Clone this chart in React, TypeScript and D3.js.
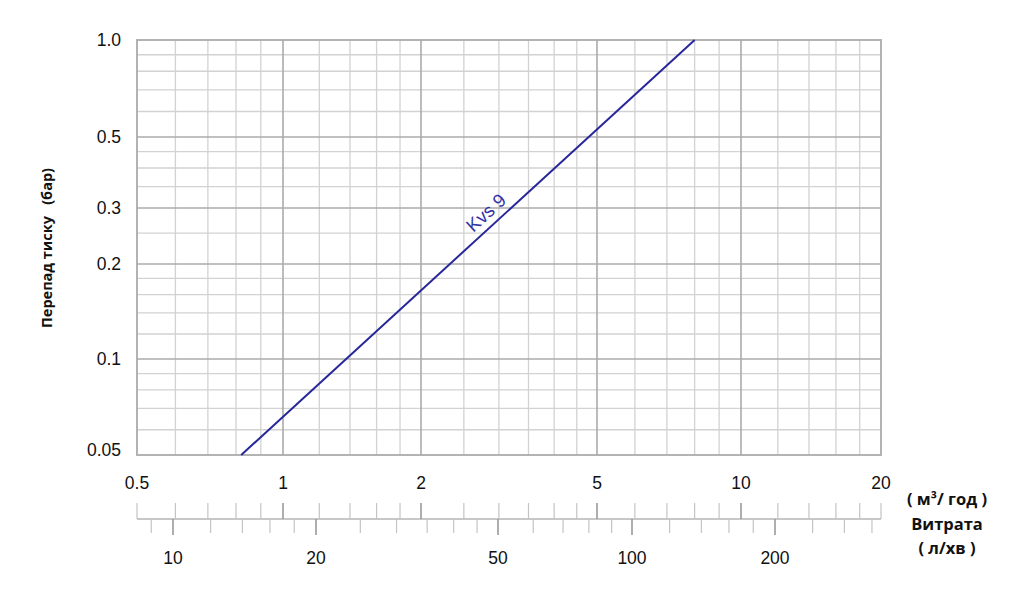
import React from "react";
import * as d3 from "d3";

// ---- data ----
const flowTicks = [0.5, 1, 2, 5, 10, 20]; // m³/год
const flowMinor = [0.6, 0.7, 0.8, 0.9, 1.2, 1.4, 1.6, 1.8, 2.5, 3, 3.5, 4, 4.5, 6, 7, 8, 9, 12, 14, 16, 18];
const dpTicks = [1.0, 0.5, 0.3, 0.2, 0.1, 0.05]; // бар
const dpLabels = ["1.0", "0.5", "0.3", "0.2", "0.1", "0.05"];
const dpMinor = [0.9, 0.8, 0.7, 0.6, 0.45, 0.4, 0.35, 0.25, 0.18, 0.16, 0.14, 0.12, 0.09, 0.08, 0.07, 0.06];
const lpmTicks = [10, 20, 50, 100, 200]; // л/хв
const lpmMinor = [9, 12, 14, 16, 18, 25, 30, 35, 40, 45, 60, 70, 80, 90, 120, 140, 160, 180, 240, 280, 320];
const kvsFlow = [0.82, 8.0];
const kvsDp = [0.05, 1.0];
const kvsLabel = "Kvs 9";

const W = 1024;
const H = 615;

export default function App() {
  const x = d3.scaleLog().domain(flowTicks).range([137, 283, 421, 597, 741, 881]);
  const y = d3.scaleLog().domain(dpTicks).range([40, 137, 208, 264, 359, 455]);
  const xl = d3.scaleLog().domain(lpmTicks).range([173, 316, 498, 632, 775]);

  const x0 = x(0.5), x1 = x(20), y0 = y(1.0), y1 = y(0.05);
  const pts: [number, number][] = kvsFlow.map((f, i) => [f, kvsDp[i]]);
  const line = d3.line<[number, number]>().x(d => x(d[0])).y(d => y(d[1]));

  const pA = [x(kvsFlow[0]), y(kvsDp[0])];
  const pB = [x(kvsFlow[1]), y(kvsDp[1])];
  const ang = (Math.atan2(pB[1] - pA[1], pB[0] - pA[0]) * 180) / Math.PI;
  const t = 0.56;
  const lx = pA[0] + (pB[0] - pA[0]) * t;
  const ly = pA[1] + (pB[1] - pA[1]) * t;

  const axY = 519;
  const minorC = "#d2d2d2";
  const majorC = "#ababab";
  const font = "'Liberation Sans', Arial, sans-serif";
  const boldFont = "'Open Sans', 'DejaVu Sans', sans-serif";

  return (
    <svg width={W} height={H} style={{ position: "absolute", left: 0, top: 0, background: "#fff" }}>
      {/* minor grid */}
      {flowMinor.map(v => (
        <line key={"vx" + v} x1={x(v)} x2={x(v)} y1={y0} y2={y1} stroke={minorC} strokeWidth={1.3} />
      ))}
      {dpMinor.map(v => (
        <line key={"hy" + v} x1={x0} x2={x1} y1={y(v)} y2={y(v)} stroke={minorC} strokeWidth={1.3} />
      ))}
      {/* major grid */}
      {flowTicks.slice(1, -1).map(v => (
        <line key={"VX" + v} x1={x(v)} x2={x(v)} y1={y0} y2={y1} stroke={majorC} strokeWidth={1.6} />
      ))}
      {dpTicks.slice(1, -1).map(v => (
        <line key={"HY" + v} x1={x0} x2={x1} y1={y(v)} y2={y(v)} stroke={majorC} strokeWidth={1.6} />
      ))}
      <rect x={x0} y={y0} width={x1 - x0} height={y1 - y0} fill="none" stroke={majorC} strokeWidth={1.8} />

      {/* curve */}
      <path d={line(pts) || ""} fill="none" stroke="#27279a" strokeWidth={2} />
      <text
        x={lx}
        y={ly}
        dy={-7}
        transform={`rotate(${ang} ${lx} ${ly})`}
        textAnchor="middle"
        fontFamily={font}
        fontSize={18.5}
        fill="#3333a6"
      >
        {kvsLabel}
      </text>

      {/* y tick labels */}
      {dpTicks.map((v, i) => (
        <text
          key={"yl" + v}
          x={121}
          y={i === dpTicks.length - 1 ? y(v) - 5 : y(v)}
          textAnchor="end"
          dominantBaseline="central"
          fontFamily={font}
          fontSize={17.5}
          fill="#111"
        >
          {dpLabels[i]}
        </text>
      ))}

      {/* x tick labels (m³/год) */}
      {flowTicks.map(v => (
        <text
          key={"xl" + v}
          x={x(v)}
          y={483}
          textAnchor="middle"
          dominantBaseline="central"
          fontFamily={font}
          fontSize={17.5}
          fill="#111"
        >
          {String(v)}
        </text>
      ))}

      {/* secondary axis */}
      <line x1={x0} x2={x1} y1={axY} y2={axY} stroke="#b5b5b5" strokeWidth={1.5} />
      {flowMinor.concat(flowTicks).map(v => {
        const major = flowTicks.includes(v) && v !== 0.5 && v !== 20;
        return (
          <line
            key={"ut" + v}
            x1={x(v)}
            x2={x(v)}
            y1={axY}
            y2={axY - 16}
            stroke={major ? "#9a9a9a" : "#c4c4c4"}
            strokeWidth={major ? 1.6 : 1.2}
          />
        );
      })}
      {lpmMinor.map(v => (
        <line key={"lt" + v} x1={xl(v)} x2={xl(v)} y1={axY} y2={axY + 14} stroke="#c4c4c4" strokeWidth={1.2} />
      ))}
      {lpmTicks.map(v => (
        <line key={"LT" + v} x1={xl(v)} x2={xl(v)} y1={axY} y2={axY + 16} stroke="#9a9a9a" strokeWidth={1.6} />
      ))}
      {lpmTicks.map(v => (
        <text
          key={"ll" + v}
          x={xl(v)}
          y={558}
          textAnchor="middle"
          dominantBaseline="central"
          fontFamily={font}
          fontSize={17.5}
          fill="#111"
        >
          {String(v)}
        </text>
      ))}

      {/* axis titles */}
      <text
        transform="translate(46,248) rotate(-90)"
        textAnchor="middle"
        dominantBaseline="central"
        fontFamily={boldFont}
        fontWeight="bold"
        fontSize={14.5}
        fill="#111"
        style={{ whiteSpace: "pre" }}
      >
        {"Перепад тиску   (бар)"}
      </text>
      <g fontFamily={boldFont} fontWeight="bold" fontSize={16.5} fill="#111" textAnchor="middle">
        <text x={947} y={498} dominantBaseline="central" style={{ whiteSpace: "pre" }}>
          {"( м³/ год )"}
        </text>
        <text x={947} y={523} dominantBaseline="central">
          Витрата
        </text>
        <text x={947} y={547} dominantBaseline="central" style={{ whiteSpace: "pre" }}>
          {"( л/хв )"}
        </text>
      </g>
    </svg>
  );
}
